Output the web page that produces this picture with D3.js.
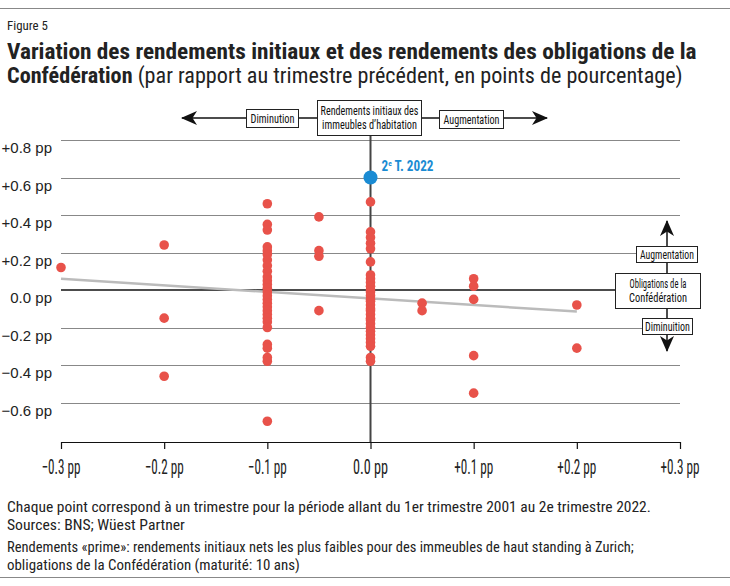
<!DOCTYPE html>
<html><head><meta charset="utf-8">
<script src="https://cdn.jsdelivr.net/npm/d3@7"></script>
<style>
html,body{margin:0;padding:0;background:#fff;}
svg{display:block;}
.cond{font-family:"Liberation Sans Narrow","Roboto Condensed","DejaVu Sans Condensed","Liberation Sans",sans-serif;}
.reg{font-family:"Liberation Sans",Arial,sans-serif;}
</style></head>
<body>
<script>
// ---- data ----
const xTicks = [-0.3, -0.2, -0.1, 0, 0.1, 0.2, 0.3];
const xTickLabels = ["−0.3 pp","−0.2 pp","−0.1 pp","0.0 pp","+0.1 pp","+0.2 pp","+0.3 pp"];
const yTicks = [0.8, 0.6, 0.4, 0.2, 0, -0.2, -0.4, -0.6];
const yTickLabels = ["+0.8 pp","+0.6 pp","+0.4 pp","+0.2 pp","0.0 pp","−0.2 pp","−0.4 pp","−0.6 pp"];
// change in initial yields (x) and bond yields (y), one point per quarter
const ptsX = [
 -0.3,
 -0.2,-0.2,-0.2,
 -0.1,-0.1,-0.1,-0.1,-0.1,-0.1,-0.1,-0.1,-0.1,-0.1,-0.1,-0.1,-0.1,-0.1,-0.1,-0.1,-0.1,-0.1,-0.1,-0.1,-0.1,-0.1,-0.1,-0.1,-0.1,-0.1,-0.1,-0.1,
 -0.05,-0.05,-0.05,-0.05,
 0,0,0,0,0,0,0,0,0,0,0,0,0,0,0,0,0,0,0,0,0,0,0,0,0,0,0,0,0,0,
 0.05,0.05,
 0.1,0.1,0.1,0.1,0.1,
 0.2,0.2
];
const ptsY = [
 0.12,
 0.24,-0.15,-0.46,
 0.46,0.35,0.32,0.23,0.21,0.19,0.16,0.13,0.10,0.07,0.05,0.03,0.01,-0.01,-0.03,-0.05,-0.07,-0.09,-0.11,-0.13,-0.15,-0.17,-0.20,-0.29,-0.31,-0.36,-0.38,-0.70,
 0.39,0.21,0.18,-0.11,
 0.47,0.31,0.28,0.25,0.22,0.15,0.08,0.06,0.04,0.02,0.00,-0.01,-0.03,-0.05,-0.06,-0.08,-0.10,-0.11,-0.13,-0.15,-0.16,-0.18,-0.20,-0.22,-0.24,-0.26,-0.28,-0.30,-0.36,-0.38,
 -0.07,-0.11,
 0.06,0.02,-0.05,-0.35,-0.55,
 -0.08,-0.31
];
const latestX = [0];
const latestY = [0.6];
const latestLabel = "2e T. 2022";
const trendX = [-0.3, 0.2];
const trendY = [0.06, -0.115];

// ---- layout ----
const W = 730, H = 586;
const svg = d3.select("body").append("svg").attr("width", W).attr("height", H);
const x = d3.scaleLinear().domain([-0.3, 0.3]).range([61, 680]);
const y = d3.scaleLinear().domain([-0.6, 0.8]).range([402.5, 140]);

// horizontally fit a text (anchored at tx,ty) to a target width
function fitText(g, tx, ty, target, anchor) {
  const len = g.node().getComputedTextLength();
  const s = Math.max(0.6, Math.min(1.25, target / len));
  g.attr("x", 0).attr("y", 0).attr("text-anchor", anchor)
   .attr("transform", `translate(${tx},${ty}) scale(${s},1)`);
}

// frame rules
svg.append("line").attr("x1",0).attr("x2",W).attr("y1",8.5).attr("y2",8.5).attr("stroke","#888").attr("stroke-width",1);
svg.append("line").attr("x1",0).attr("x2",W).attr("y1",577.5).attr("y2",577.5).attr("stroke","#888").attr("stroke-width",1);

svg.append("text").attr("class","cond").attr("font-size",13).attr("fill","#222").text("Figure 5")
  .call(fitText, 7, 30, 41, "start");
svg.append("text").attr("class","cond").attr("font-size",22).attr("font-weight","bold").attr("fill","#222")
  .text("Variation des rendements initiaux et des rendements des obligations de la")
  .call(fitText, 7, 59, 690, "start");
const t2 = svg.append("text").attr("class","cond").attr("font-size",22).attr("fill","#222");
t2.append("tspan").attr("font-weight","bold").text("Confédération");
t2.append("tspan").text(" (par rapport au trimestre précédent, en points de pourcentage)");
t2.call(fitText, 7, 83, 676, "start");

// gridlines
svg.append("g").selectAll("line").data(yTicks.filter(d => d !== 0)).join("line")
  .attr("x1", x(-0.3)).attr("x2", x(0.3))
  .attr("y1", d => Math.round(y(d)) + 0.5).attr("y2", d => Math.round(y(d)) + 0.5)
  .attr("stroke", "#888").attr("stroke-width", 1);

// y labels
svg.append("g").selectAll("text").data(yTicks).join("text")
  .attr("class","reg").attr("x", 52).attr("y", d => y(d) + 8)
  .attr("dy","0.35em").attr("text-anchor","end").attr("font-size",15).attr("fill","#222")
  .text((d,i) => yTickLabels[i]);

// x axis (line + ticks from d3 axis, labels drawn below)
const xAxis = d3.axisBottom(x).tickValues(xTicks).tickSize(7).tickFormat("");
const gx = svg.append("g").attr("transform","translate(0,442)").call(xAxis);
gx.select(".domain").attr("stroke","#111").attr("stroke-width",1.2).attr("d", `M${x(-0.3)},0.5H${x(0.3)}`);
gx.selectAll(".tick line").attr("stroke","#111").attr("stroke-width",1.2);
svg.append("g").selectAll("text").data(xTicks).join("text")
  .attr("class","cond").attr("font-size",20).attr("fill","#222")
  .text((d,i) => xTickLabels[i])
  .each(function(d) { d3.select(this).call(fitText, x(d), 474, d === 0 ? 35 : 39, "middle"); });

// arrowhead markers
const defs = svg.append("defs");
defs.append("marker").attr("id","arr").attr("viewBox","0 0 16 14").attr("refX",15).attr("refY",7)
  .attr("markerWidth",16).attr("markerHeight",14).attr("markerUnits","userSpaceOnUse").attr("orient","auto")
  .append("path").attr("d","M0,0 L16,7 L0,14 L4.5,7 Z").attr("fill","#111");

// zero line (bond axis)
svg.append("line").attr("x1", x(-0.3)).attr("x2", 615).attr("y1", y(0)).attr("y2", y(0)).attr("stroke","#111").attr("stroke-width",1.6);
// vertical axis line at x=0
svg.append("line").attr("x1", x(0)).attr("x2", x(0)).attr("y1", 135).attr("y2", 442).attr("stroke","#444").attr("stroke-width",2);

// trend line
svg.append("path").datum(trendX.map((d,i) => [d, trendY[i]]))
  .attr("d", d3.line().x(d => x(d[0])).y(d => y(d[1])))
  .attr("stroke","#bbb").attr("stroke-width",2.5).attr("fill","none");

// dots
svg.append("g").selectAll("circle").data(ptsX.map((d,i) => [d, ptsY[i]])).join("circle")
  .attr("cx", d => x(d[0])).attr("cy", d => y(d[1])).attr("r", 4.8).attr("fill","#e8524a");

svg.append("g").selectAll("circle").data(latestX.map((d,i) => [d, latestY[i]])).join("circle")
  .attr("cx", d => x(d[0])).attr("cy", d => y(d[1])).attr("r", 7).attr("fill","#1a8bd3");
const lt = svg.append("text").attr("class","cond")
  .attr("font-size",14).attr("font-weight","bold").attr("fill","#1a8bd3");
lt.append("tspan").text(latestLabel.slice(0,1));
lt.append("tspan").attr("font-size",8).attr("dy",-5).text(latestLabel.slice(1,2));
lt.append("tspan").attr("dy",5).text(latestLabel.slice(2));
lt.call(fitText, x(latestX[0]) + 11, y(latestY[0]) - 7, 52, "start");

// top annotation (horizontal arrows)
svg.append("line").attr("x1",x(0)).attr("x2",182).attr("y1",118).attr("y2",118).attr("stroke","#111").attr("stroke-width",1.5).attr("marker-end","url(#arr)");
svg.append("line").attr("x1",x(0)).attr("x2",547).attr("y1",118).attr("y2",118).attr("stroke","#111").attr("stroke-width",1.5).attr("marker-end","url(#arr)");

function box(x0, y0, w, h, lines, fs, widths) {
  svg.append("rect").attr("x",x0+0.5).attr("y",y0+0.5).attr("width",w).attr("height",h).attr("fill","#fff").attr("stroke","#222").attr("stroke-width",1);
  const n = lines.length, lh = 14;
  lines.forEach((l, i) => {
    svg.append("text").attr("class","cond").attr("dy","0.35em").attr("font-size",fs).attr("fill","#111").text(l)
      .call(fitText, x0 + w/2 + 0.5, y0 + h/2 + 0.5 + (i - (n-1)/2) * lh, widths[i], "middle");
  });
}
box(246, 109, 52, 18, ["Diminution"], 13, [44]);
box(317, 100, 104, 35, ["Rendements initiaux des","immeubles d’habitation"], 12, [98, 95]);
box(439, 110, 64, 18, ["Augmentation"], 13, [56]);

// right annotation (vertical arrows)
svg.append("line").attr("x1",667).attr("x2",667).attr("y1",290).attr("y2",221).attr("stroke","#111").attr("stroke-width",1.5).attr("marker-end","url(#arr)");
svg.append("line").attr("x1",667).attr("x2",667).attr("y1",290).attr("y2",351).attr("stroke","#111").attr("stroke-width",1.5).attr("marker-end","url(#arr)");
box(636, 246, 61, 16, ["Augmentation"], 12.5, [54]);
box(615, 273, 85, 35, ["Obligations de la","Confédération"], 12, [57, 58]);
box(642, 318, 50, 16, ["Diminuition"], 12.5, [45]);

// footer
const foot = [
  ["Chaque point correspond à un trimestre pour la période allant du 1er trimestre 2001 au 2e trimestre 2022.", 512, 644],
  ["Sources: BNS; Wüest Partner", 530, 178],
  ["Rendements «prime»: rendements initiaux nets les plus faibles pour des immeubles de haut standing à Zurich;", 552, 627],
  ["obligations de la Confédération (maturité: 10 ans)", 570, 293]
];
svg.append("g").selectAll("text").data(foot).join("text")
  .attr("class","cond").attr("font-size",15).attr("fill","#222")
  .text(d => d[0])
  .each(function(d) { d3.select(this).call(fitText, 7, d[1], d[2], "start"); });
</script>
</body></html>
